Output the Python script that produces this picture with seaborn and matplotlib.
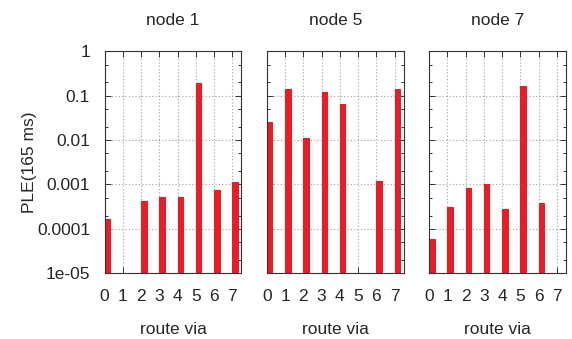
import numpy as np
import pandas as pd
import matplotlib
matplotlib.use("Agg")
import matplotlib.pyplot as plt
import seaborn as sns
from matplotlib.ticker import FixedLocator, FixedFormatter, LogLocator, NullFormatter

# Packet loss estimate per relay route, one panel per destination node
nodes = ["node 1", "node 5", "node 7"]
routes = [0, 1, 2, 3, 4, 5, 6, 7]
ple_node1 = [1.65e-4, 0, 4.25e-4, 5.3e-4, 5.3e-4, 0.196, 7.5e-4, 1.16e-3]
ple_node5 = [0.0256, 0.139, 0.0113, 0.121, 0.064, 0, 1.2e-3, 0.144]
ple_node7 = [5.8e-5, 3.06e-4, 8.2e-4, 1.01e-3, 2.85e-4, 0.168, 3.8e-4, 0]

y_ticks = [1e-5, 1e-4, 1e-3, 1e-2, 1e-1, 1]
y_tick_labels = ["1e-05", "0.0001", "0.001", "0.01", "0.1", "1"]
x_tick_labels = [str(r) for r in routes]

df = pd.DataFrame({
    "node": np.repeat(nodes, len(routes)),
    "route": routes * len(nodes),
    "ple": ple_node1 + ple_node5 + ple_node7,
})

sns.set_style("ticks")
plt.rcParams["font.family"] = ["Liberation Sans", "DejaVu Sans"]
plt.rcParams["font.size"] = 12.5

BAR_RED = "#ed1c24"
FS = 12.5

g = sns.FacetGrid(df, col="node", col_order=nodes, sharey=True, sharex=True,
                  height=3.39, aspect=0.56)
g.map_dataframe(lambda data, **kw: plt.bar(data["route"], data["ple"], width=0.36,
                                            align="edge", color=BAR_RED, linewidth=0,
                                            zorder=2))
g.figure.set_size_inches(5.72, 3.39)
g.figure.subplots_adjust(left=0.183, right=0.9895, top=0.8487, bottom=0.1938,
                         wspace=0.186)

g.set_titles("{col_name}", size=FS, pad=19)
g.set_axis_labels("route via", "PLE(165 ms)")

for i, ax in enumerate(g.axes.flat):
    ax.set_yscale("log")
    ax.set_ylim(1e-5, 1)
    ax.set_xlim(0, 7.5)
    ax.yaxis.set_major_locator(FixedLocator(y_ticks))
    ax.yaxis.set_major_formatter(FixedFormatter(y_tick_labels))
    ax.yaxis.set_minor_locator(LogLocator(base=10, subs=(2.0, 5.0)))
    ax.yaxis.set_minor_formatter(NullFormatter())
    ax.xaxis.set_major_locator(FixedLocator(routes))
    ax.set_xticklabels(x_tick_labels)
    ax.tick_params(which="both", direction="in", top=True, right=True,
                   color="#333333", width=0.7)
    ax.tick_params(which="major", length=4, labelsize=FS)
    ax.tick_params(axis="y", which="major", pad=10.5)
    ax.tick_params(axis="x", which="major", pad=11)
    ax.tick_params(which="minor", length=2)
    ax.grid(True, which="major", linestyle=(0, (1, 2)), color="#a0a0a0",
            linewidth=0.8)
    ax.set_axisbelow(True)
    for sp in ax.spines.values():
        sp.set_visible(True)
        sp.set_color("#333333")
        sp.set_linewidth(0.8)
    ax.xaxis.label.set_size(FS)
    ax.xaxis.labelpad = 13
    if i == 0:
        ax.yaxis.label.set_size(FS)
        ax.yaxis.labelpad = 0
    else:
        ax.tick_params(axis="y", labelleft=False)

g.figure.savefig("out.png", dpi=100, facecolor="white")
